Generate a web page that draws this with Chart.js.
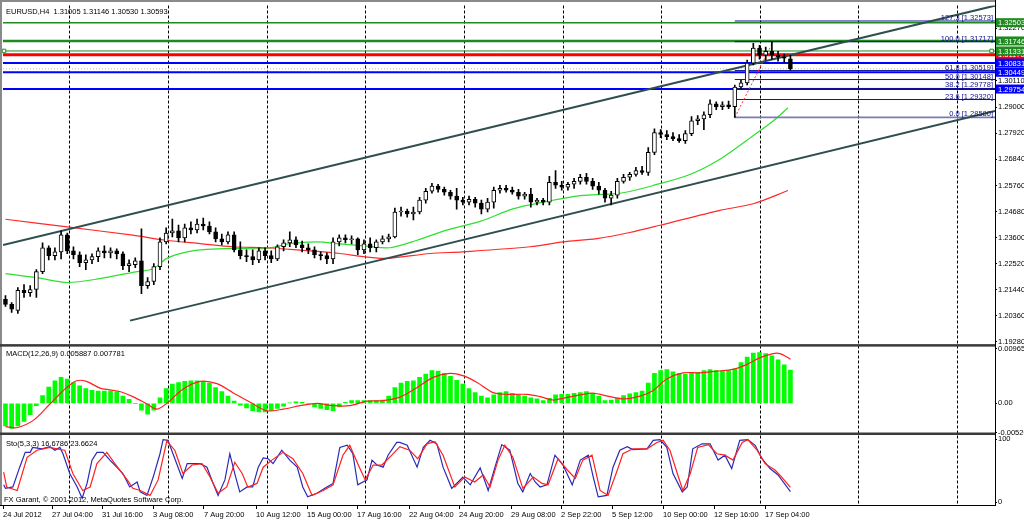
<!DOCTYPE html>
<html>
<head>
<meta charset="utf-8">
<title>EURUSD,H4</title>
<script src="https://cdn.jsdelivr.net/npm/chart.js@4.4.1/dist/chart.umd.min.js"></script>
<style>
html,body{margin:0;padding:0;background:#ffffff;overflow:hidden;}
#box{position:relative;width:1024px;height:520px;}
canvas{display:block;}
</style>
</head>
<body>
<div id="box"><canvas id="chart" width="1024" height="520" style="width:1024px;height:520px"></canvas></div>
<script>
// ---------- DATA ----------
const symbolName = 'EURUSD,H4';
const candleOpen = [
1.2104,1.2083,1.2058,1.2141,1.2132,1.2145,1.2219,1.2318,1.2285,1.2301,
1.2371,1.2305,1.2289,1.2256,1.2268,1.2281,1.2305,1.2297,1.2305,1.2293,
1.2244,1.2248,1.2264,1.2161,1.2178,1.2240,1.2342,1.2379,1.2388,1.2359,
1.2400,1.2392,1.2416,1.2408,1.2384,1.2355,1.2342,1.2371,1.2309,1.2285,
1.2281,1.2268,1.2305,1.2285,1.2272,1.2322,1.2338,1.2351,1.2330,1.2318,
1.2309,1.2289,1.2285,1.2272,1.2342,1.2359,1.2351,1.2355,1.2309,1.2334,
1.2318,1.2342,1.2355,1.2363,1.2466,1.2470,1.2458,1.2466,1.2515,1.2552,
1.2573,1.2560,1.2548,1.2532,1.2515,1.2507,1.2519,1.2503,1.2478,1.2507,
1.2556,1.2564,1.2556,1.2548,1.2532,1.2540,1.2507,1.2515,1.2507,1.2589,
1.2577,1.2569,1.2581,1.2593,1.2610,1.2593,1.2573,1.2556,1.2523,1.2536,
1.2593,1.2610,1.2622,1.2638,1.2630,1.2713,1.2795,1.2787,1.2778,1.2770,
1.2762,1.2791,1.2844,1.2852,1.2869,1.2914,1.2902,1.2910,1.2902,1.2984,
1.3001,1.3083,1.3145,1.3116,1.3132,1.3116,1.3108,1.31005];
const candleHigh = [
1.2120,1.2091,1.2153,1.2165,1.2161,1.2227,1.2338,1.2326,1.2318,1.2388,
1.2379,1.2322,1.2301,1.2289,1.2293,1.2318,1.2326,1.2318,1.2313,1.2301,
1.2268,1.2276,1.2396,1.2194,1.2252,1.2359,1.2400,1.2437,1.2412,1.2416,
1.2425,1.2437,1.2441,1.2425,1.2400,1.2375,1.2384,1.2384,1.2342,1.2309,
1.2309,1.2318,1.2318,1.2305,1.2330,1.2351,1.2384,1.2363,1.2346,1.2334,
1.2322,1.2301,1.2297,1.2359,1.2371,1.2371,1.2367,1.2359,1.2351,1.2359,
1.2351,1.2367,1.2375,1.2482,1.2486,1.2478,1.2486,1.2527,1.2564,1.2585,
1.2581,1.2569,1.2556,1.2564,1.2527,1.2532,1.2527,1.2515,1.2523,1.2569,
1.2577,1.2577,1.2569,1.2560,1.2548,1.2564,1.2523,1.2523,1.2614,1.2638,
1.2593,1.2589,1.2606,1.2622,1.2626,1.2606,1.2589,1.2564,1.2552,1.2606,
1.2622,1.2630,1.2651,1.2655,1.2733,1.2811,1.2807,1.2803,1.2795,1.2787,
1.2803,1.2861,1.2865,1.2881,1.2931,1.2922,1.2922,1.2926,1.2992,1.3013,
1.3095,1.3165,1.3157,1.3149,1.3172,1.3132,1.3120,1.31146];
const candleLow = [
1.2075,1.2050,1.2046,1.2112,1.2116,1.2112,1.2211,1.2268,1.2268,1.2272,
1.2293,1.2272,1.2240,1.2227,1.2252,1.2260,1.2276,1.2276,1.2272,1.2227,
1.2219,1.2235,1.2128,1.2149,1.2165,1.2227,1.2334,1.2363,1.2342,1.2342,
1.2375,1.2379,1.2392,1.2375,1.2342,1.2330,1.2334,1.2301,1.2272,1.2260,
1.2248,1.2256,1.2268,1.2256,1.2264,1.2305,1.2322,1.2318,1.2301,1.2293,
1.2276,1.2268,1.2252,1.2252,1.2326,1.2338,1.2334,1.2289,1.2293,1.2301,
1.2301,1.2334,1.2342,1.2359,1.2449,1.2445,1.2433,1.2458,1.2503,1.2544,
1.2548,1.2536,1.2519,1.2478,1.2495,1.2495,1.2486,1.2458,1.2466,1.2482,
1.2544,1.2548,1.2540,1.2519,1.2519,1.2486,1.2495,1.2495,1.2495,1.2564,
1.2556,1.2556,1.2564,1.2581,1.2581,1.2560,1.2540,1.2507,1.2495,1.2523,
1.2585,1.2597,1.2614,1.2622,1.2618,1.2704,1.2774,1.2766,1.2762,1.2754,
1.2750,1.2782,1.2828,1.2807,1.2857,1.2890,1.2890,1.2894,1.2858,1.2976,
1.2992,1.3075,1.3099,1.3095,1.3099,1.3091,1.3087,1.30530];
const candleClose = [
1.2083,1.2063,1.2141,1.2132,1.2145,1.2219,1.2318,1.2285,1.2301,1.2371,
1.2305,1.2289,1.2256,1.2268,1.2281,1.2305,1.2297,1.2305,1.2293,1.2244,
1.2252,1.2264,1.2161,1.2178,1.2240,1.2342,1.2379,1.2388,1.2359,1.2400,
1.2392,1.2416,1.2408,1.2384,1.2355,1.2342,1.2371,1.2309,1.2285,1.2281,
1.2268,1.2305,1.2285,1.2272,1.2322,1.2338,1.2351,1.2330,1.2318,1.2309,
1.2289,1.2285,1.2272,1.2342,1.2359,1.2351,1.2355,1.2309,1.2334,1.2318,
1.2342,1.2355,1.2363,1.2466,1.2470,1.2458,1.2466,1.2515,1.2552,1.2573,
1.2560,1.2548,1.2532,1.2515,1.2507,1.2519,1.2503,1.2478,1.2507,1.2556,
1.2564,1.2556,1.2548,1.2532,1.2540,1.2507,1.2515,1.2507,1.2589,1.2577,
1.2569,1.2581,1.2593,1.2610,1.2593,1.2573,1.2556,1.2523,1.2536,1.2593,
1.2610,1.2622,1.2638,1.2630,1.2713,1.2795,1.2787,1.2778,1.2770,1.2762,
1.2791,1.2844,1.2852,1.2869,1.2914,1.2902,1.2910,1.2902,1.2984,1.3001,
1.3083,1.3145,1.3116,1.3132,1.3116,1.3108,1.3103,1.30593];

// moving averages (bar index, price)
const maFastIdx = [0,5.1,10,15.3,20.6,23.9,26.1,29.4,32.6,36.8,42.3,46,50.4,54.1,57.9,62.2,66.6,71.4,76.8,82.1,87.6,93,98.3,101,104.8,110.3,115.6,120.9,124.2,126.6];
const maFastVal = [1.2211,1.2194,1.2174,1.2190,1.2216,1.2231,1.2274,1.2301,1.2311,1.2315,1.2315,1.2335,1.2342,1.2334,1.2326,1.2318,1.2349,1.2391,1.2427,1.2479,1.2510,1.2534,1.2541,1.2551,1.2576,1.2617,1.2685,1.2781,1.2843,1.2898];
const maSlowIdx = [0,10,20.6,26,31.5,36.8,42.3,47.6,54.1,57.9,61.7,68.7,74,84.9,90.2,95.7,101,105.9,115.6,121,126.6];
const maSlowVal = [1.2436,1.2404,1.2370,1.2349,1.2335,1.2322,1.2318,1.2308,1.2294,1.2281,1.2274,1.2294,1.2301,1.2322,1.2342,1.2356,1.2381,1.2411,1.2473,1.2500,1.2555];

// channel trend lines (bar index, price)
const channelUpIdx = [-0.4, 160.1];
const channelUpVal = [1.2329, 1.3321];
const channelLowIdx = [20.15, 160.1];
const channelLowVal = [1.2016, 1.2885];

// horizontal price lines and their axis labels
const hLineLevels = [1.32503, 1.31746, 1.31170, 1.31331, 1.30831, 1.30449, 1.29754];
const bidPrice = 1.30593;
const selectedAnchorIdx = [-0.24, 159.55];

// Fibonacci retracement
const fibAnchorIdx = [118, 124.2];
const fibAnchorVal = [1.28580, 1.31717];
const fibLevels = [0.0, 23.6, 38.2, 50.0, 61.8, 100.0, 127.3];
const fibPrices = [1.28580, 1.29320, 1.29778, 1.30148, 1.30519, 1.31717, 1.32573];

// MACD(12,26,9)
const macdHist = [
-0.0040,-0.0044,-0.0040,-0.0032,-0.0020,-0.0004,0.0014,0.0029,0.0040,0.0046,
0.0043,0.0037,0.0031,0.0026,0.0023,0.0022,0.0022,0.0022,0.0020,0.0013,
0.0007,0.0000,-0.0012,-0.0019,-0.0012,0.0010,0.0026,0.0034,0.0037,0.0039,
0.0040,0.0040,0.0039,0.0036,0.0028,0.0021,0.0013,0.0004,-0.0003,-0.0008,
-0.0013,-0.0015,-0.0015,-0.0013,-0.0009,-0.0005,0.0001,0.0003,0.0002,-0.0001,
-0.0006,-0.0009,-0.0011,-0.0013,-0.0006,0.0002,0.0005,0.0005,0.0005,0.0005,
0.0005,0.0006,0.0013,0.0028,0.0036,0.0039,0.0040,0.0046,0.0052,0.0058,
0.0057,0.0053,0.0048,0.0041,0.0034,0.0026,0.0019,0.0013,0.0010,0.0015,
0.0019,0.0021,0.0018,0.0015,0.0013,0.0010,0.0008,0.0005,0.0009,0.0015,
0.0016,0.0016,0.0018,0.0019,0.0021,0.0018,0.0013,0.0005,0.0006,0.0010,
0.0014,0.0017,0.0019,0.0022,0.0036,0.0053,0.0058,0.0060,0.0056,0.0053,
0.0052,0.0054,0.0055,0.0058,0.0060,0.0058,0.0058,0.0058,0.0061,0.0072,
0.0082,0.0089,0.0090,0.0088,0.0084,0.0077,0.0068,0.005887];
const macdSignalIdx = [0,1.8,4.5,7.2,9.9,11.5,13.1,15.3,16.9,18.5,20.6,22.9,24.5,26.1,28.7,31.5,34.2,36.8,39.6,42.3,45,47.7,50.4,53,55.7,58.5,61.1,63.8,66.6,69.2,71.9,74,76.3,78.9,81.1,84.4,86.5,88.6,90.2,93,95,97.8,99.9,102.7,104.8,107,109.6,112.4,115.1,117.7,120,122.1,124.2,125.3,126.6,127];
const macdSignalVal = [-0.0041,-0.0043,-0.0030,-0.0001,0.0028,0.0040,0.0039,0.0027,0.0024,0.0021,0.0012,-0.0001,-0.0010,0.0000,0.0025,0.0039,0.0035,0.0019,0.0002,-0.0013,-0.0010,-0.0004,0.0000,-0.0004,-0.0004,0.0004,0.0005,0.0011,0.0028,0.0046,0.0053,0.0049,0.0037,0.0019,0.0016,0.0016,0.0012,0.0006,0.0009,0.0015,0.0018,0.0012,0.0008,0.0013,0.0023,0.0043,0.0054,0.0054,0.0057,0.0060,0.0069,0.0081,0.0088,0.0088,0.0081,0.007781];

// Stochastic(5,3,3)
const stochKIdx = [-0.3,0,1.2,2.3,3.2,4.0,4.4,5.9,7.2,8.0,8.8,9.3,10.4,11.6,12.4,13.2,14.0,14.8,15.8,16.9,18.0,19.0,20.1,21.3,21.8,22.9,23.9,25.0,25.5,26.3,27.1,28.6,29.4,30.3,31.5,32.6,33.6,34.4,35.5,36.3,37.1,37.9,39.1,40.0,40.9,41.7,42.5,43.3,44.7,46.0,47.2,48.1,48.9,50.4,52.0,53.0,54.1,55.3,56.2,57.0,58.5,59.3,60.1,61.1,61.9,63.3,63.8,65.0,66.6,67.6,68.7,69.8,70.8,72.2,74.0,75.2,76.8,78.1,79.2,80.3,81.6,82.9,83.7,84.9,85.7,86.5,87.6,88.9,90.2,91.7,93.0,94.3,95.1,95.9,97.3,98.3,99.4,100.6,101.5,103.8,104.8,105.9,107.0,108.0,109.5,110.3,111.2,112.7,114.0,115.3,116.4,117.5,118.8,120.1,121.3,122.4,123.7,125.0,127];
const stochKVal = [27.6,22,24.2,55.6,79.1,79.1,87,84.7,88.1,82.5,87,76.9,45.5,24.2,6.3,29.8,66.8,79.1,79.1,66.8,55.6,45.5,24.2,32.1,16.4,10.8,39.9,76.9,99.3,98.2,76.9,37.7,61.2,61.2,61.2,55.6,29.8,10.8,35.4,76.9,45.5,16.4,24.2,24.2,55.6,70.2,69,61.2,82.5,66.8,55.6,24.2,8.6,14.2,24.2,29.8,87,90.3,76.9,27.6,35.4,66.8,59,55.6,74.6,94.8,94.8,90.3,55.6,87,98.2,92.6,55.6,22,39.9,27.6,54.5,18.6,55.6,91.4,82.5,29.8,16.4,45.5,32.1,24.2,27.6,74.6,59,27.6,66.8,74.6,39.9,8.6,10.8,55.6,82.5,88.1,83.6,84.7,98.2,99.3,87,45.5,16.4,24.2,84.7,92.6,92.6,66.8,74.6,53.4,98.2,99.3,90.3,69,53.4,43.3,16.6786];
const stochDIdx = [-0.3,0.2,1.9,3.5,5.1,7.2,8.8,9.6,10.9,12.5,13.7,14.8,16.4,17.7,19.7,20.6,21.8,23.4,24.7,26.1,27.4,28.7,30.2,31.8,33.1,34.4,35.8,37.1,38.3,39.2,40.7,41.7,43.1,44.9,46.5,48.1,49.6,51.4,53.0,54.6,55.7,57.0,58.2,59.5,60.9,62.5,63.8,65.4,66.7,68.2,69.5,70.8,72.7,74.3,75.9,77.3,78.4,79.7,80.8,82.1,83.7,85.4,86.8,87.8,89.4,90.9,92.2,93.4,94.9,96.2,97.5,99.0,99.9,101.5,103.8,105.4,106.4,107.5,108.7,109.6,110.8,112.0,113.7,115.1,116.4,117.7,119.2,120.1,121.6,122.9,124.5,125.6,127];
const stochDVal = [47.8,24.2,18.6,71.3,82.5,87,83.6,82.5,45.5,18.6,24.2,61.2,79.1,61.2,35.4,22,18.6,10.8,35.4,97,82.5,45.5,59,61.2,39.9,14.2,24.2,63.4,45.5,24.2,29.8,55.6,66.8,79.1,69,45.5,10.8,18.6,27.6,74.6,90.3,61.2,35.4,59,59,74.6,88.1,82.5,69,92.6,95.9,74.6,24.2,39.9,32.1,43.3,24.2,66.8,90.3,71.3,22,39.9,29.8,27.6,69,51.1,37.7,66.8,74.6,18.6,10.8,51.1,76.9,84.7,84.7,94.8,98.2,82.5,45.5,18.6,45.5,87,91.4,76.9,74.6,66.8,94.8,99.3,82.5,61.2,51.1,39.9,23.6624];

// axes
const xTickIdx = [-0.4,7.53,15.62,23.87,32.12,40.54,48.79,56.88,65.3,73.39,81.8,89.89,98.15,106.4,114.65,122.9];
const xTickLabels = ['24 Jul 2012','27 Jul 04:00','31 Jul 16:00','3 Aug 08:00','7 Aug 20:00','10 Aug 12:00','15 Aug 00:00','17 Aug 16:00','22 Aug 04:00','24 Aug 20:00','29 Aug 08:00','2 Sep 22:00','5 Sep 12:00','10 Sep 00:00','12 Sep 16:00','17 Sep 04:00'];
const gridIdx = [10.33,26.25,42.27,58.18,74.24,90.17,106.07,122.09,137.95,153.97];
const priceTicks = [1.19280,1.20360,1.21440,1.22520,1.23600,1.24680,1.25760,1.26840,1.27920,1.29000,1.30110,1.32270];
const macdTicks = [0.00965, 0, -0.0052];
const macdTickLabels = ['0.00965','0.00','-0.00520'];
const stochTicks = [100, 0];
const footerText = 'FX Garant, \u00A9 2001-2012, MetaQuotes Software Corp.';

// ---------- STYLES / LAYOUT ----------
const X_MIN = -0.4, X_MAX = 160.1;
const FONT = '"Liberation Sans", Arial, sans-serif';
const FS = 7.5;
const hLineColors = ['#1f8a1f','#1f8a1f','#ff0000','#1f8a1f','#0000ff','#0000ff','#0000ff'];
const hLineWidths = [1.5, 2.5, 3, 1, 2, 2, 2];
const boxColors   = ['#1f8a1f','#1f8a1f','#ff0000','#1f8a1f','#0000ff','#0000ff','#0000ff'];

Chart.defaults.font.family = FONT;
Chart.defaults.font.size = FS;
Chart.defaults.color = '#000';

const pts = (xs, ys) => xs.map((x, i) => ({x: x, y: ys[i]}));
const last = a => a[a.length - 1];

const datasets = [];

// horizontal lines
hLineLevels.forEach((lv, i) => {
  const isSel = (lv === 1.31331);
  const xs = isSel ? [X_MIN, selectedAnchorIdx[0], selectedAnchorIdx[1], X_MAX] : [X_MIN, X_MAX];
  datasets.push({
    type: 'line', yAxisID: 'y', order: 60,
    data: xs.map(x => ({x: x, y: lv})),
    borderColor: hLineColors[i], borderWidth: hLineWidths[i],
    pointRadius: isSel ? [0, 2.5, 2.5, 0] : 0,
    pointStyle: 'rect', pointBackgroundColor: '#ffffff', pointBorderColor: hLineColors[i], pointBorderWidth: 1,
    clip: isSel ? 4 : undefined
  });
});
// bid line
datasets.push({ type: 'line', yAxisID: 'y', order: 58,
  data: [{x: X_MIN, y: bidPrice}, {x: X_MAX, y: bidPrice}],
  borderColor: '#b8b8b8', borderWidth: 1, borderDash: [1, 2], pointRadius: 0 });

// moving averages
datasets.push({ type: 'line', yAxisID: 'y', order: 50, data: pts(maSlowIdx, maSlowVal),
  borderColor: '#ff2a2a', borderWidth: 1.2, pointRadius: 0, tension: 0.3 });
datasets.push({ type: 'line', yAxisID: 'y', order: 50, data: pts(maFastIdx, maFastVal),
  borderColor: '#2ee02e', borderWidth: 1.2, pointRadius: 0, tension: 0.3 });

// fibonacci levels
fibPrices.forEach((p, i) => {
  datasets.push({ type: 'line', yAxisID: 'y', order: 45,
    data: [{x: fibAnchorIdx[0], y: p}, {x: X_MAX, y: p}],
    borderColor: fibLevels[i] === 0 ? '#7a7ab8' : '#101098', borderWidth: fibLevels[i] === 0 ? 1.6 : 1, pointRadius: 0 });
});
datasets.push({ type: 'line', yAxisID: 'y', order: 44, data: pts(fibAnchorIdx, fibAnchorVal),
  borderColor: '#ff3030', borderWidth: 1, borderDash: [2, 2], pointRadius: 0 });

// channel
datasets.push({ type: 'line', yAxisID: 'y', order: 40, data: pts(channelUpIdx, channelUpVal),
  borderColor: '#2f4f4f', borderWidth: 2, pointRadius: 0 });
datasets.push({ type: 'line', yAxisID: 'y', order: 40, data: pts(channelLowIdx, channelLowVal),
  borderColor: '#2f4f4f', borderWidth: 2, pointRadius: 0 });

// candles
const cIdx = candleClose.map((_, i) => i);
datasets.push({ type: 'bar', yAxisID: 'y', order: 20, grouped: false,
  data: cIdx.map(i => ({x: i, y: [candleLow[i], candleHigh[i]]})),
  backgroundColor: '#000000', borderWidth: 0, barThickness: 1, minBarLength: 1 });
datasets.push({ type: 'bar', yAxisID: 'y', order: 10, grouped: false,
  data: cIdx.map(i => ({x: i, y: [Math.min(candleOpen[i], candleClose[i]), Math.max(candleOpen[i], candleClose[i])]})),
  backgroundColor: cIdx.map(i => candleClose[i] >= candleOpen[i] ? '#ffffff' : '#000000'),
  borderColor: '#000000', borderWidth: 1, borderSkipped: false, barThickness: 4, minBarLength: 1 });

// MACD
datasets.push({ type: 'bar', yAxisID: 'yM', order: 30, grouped: false,
  data: cIdx.map(i => ({x: i, y: macdHist[i]})),
  backgroundColor: '#00ff00', borderWidth: 0, barThickness: 4 });
datasets.push({ type: 'line', yAxisID: 'yM', order: 25, data: pts(macdSignalIdx, macdSignalVal),
  borderColor: '#ff2020', borderWidth: 1.2, pointRadius: 0, tension: 0.3 });

// Stochastic
datasets.push({ type: 'line', yAxisID: 'yS', order: 22, data: pts(stochKIdx, stochKVal),
  borderColor: '#2a2ab8', borderWidth: 1.2, pointRadius: 0, tension: 0 });
datasets.push({ type: 'line', yAxisID: 'yS', order: 21, data: pts(stochDIdx, stochDVal),
  borderColor: '#ff2020', borderWidth: 1.2, pointRadius: 0, tension: 0 });

// ---------- decorations plugin ----------
const deco = {
  id: 'deco',
  beforeDatasetsDraw(chart) {
    const {ctx, chartArea: a} = chart;
    const x = chart.scales.x;
    ctx.save();
    ctx.strokeStyle = '#000'; ctx.lineWidth = 1; ctx.setLineDash([3, 2]);
    gridIdx.forEach(g => {
      const px = Math.round(x.getPixelForValue(g)) + 0.5;
      ctx.beginPath(); ctx.moveTo(px, a.top); ctx.lineTo(px, a.bottom); ctx.stroke();
    });
    ctx.restore();
  },
  afterDatasetsDraw(chart) {
    const {ctx, chartArea: a} = chart;
    const yMain = chart.scales.y, yM = chart.scales.yM;
    ctx.save();
    ctx.fillStyle = '#8a8a8a';
    ctx.fillRect(0, 0, a.right + 1, 2);
    ctx.fillRect(0, 0, 2, a.bottom);
    ctx.fillStyle = '#3a3a3a';
    ctx.fillRect(0, yMain.bottom - 1, a.right + 1, 2.5);
    ctx.fillRect(0, yM.bottom - 1, a.right + 1, 2.5);
    ctx.fillStyle = '#000';
    ctx.fillRect(a.right, 0, 1, a.bottom);
    ctx.fillRect(0, a.bottom - 1, a.right + 1, 1);
    ctx.restore();
  },
  afterDraw(chart) {
    const {ctx, chartArea: a} = chart;
    const y = chart.scales.y, yM = chart.scales.yM, yS = chart.scales.yS;
    ctx.save();
    ctx.font = FS + 'px ' + FONT;
    ctx.textBaseline = 'middle';
    ctx.textAlign = 'left';
    ctx.fillStyle = '#000';
    ctx.fillText(symbolName + '  ' + last(candleOpen).toFixed(5) + ' ' + last(candleHigh).toFixed(5) + ' ' +
      last(candleLow).toFixed(5) + ' ' + last(candleClose).toFixed(5), 6, a.top + 6);
    ctx.fillText('MACD(12,26,9) ' + last(macdHist).toFixed(6) + ' ' + last(macdSignalVal).toFixed(6), 6, yM.top + 9);
    ctx.fillText('Sto(5,3,3) ' + last(stochKVal).toFixed(4) + ' ' + last(stochDVal).toFixed(4), 6, yS.top + 10);
    ctx.fillText(footerText, 4, a.bottom - 6);

    // fibonacci descriptions
    ctx.fillStyle = '#101090';
    ctx.textAlign = 'right';
    ctx.textBaseline = 'alphabetic';
    fibPrices.forEach((p, i) => {
      const py = y.getPixelForValue(p);
      ctx.fillText(fibLevels[i].toFixed(1) + ' [' + p.toFixed(5) + ']', a.right - 2, py - 1);
    });

    // price boxes on the right axis
    ctx.textAlign = 'left';
    ctx.textBaseline = 'middle';
    hLineLevels.forEach((v, i) => {
      const py = y.getPixelForValue(v);
      ctx.fillStyle = boxColors[i];
      ctx.fillRect(a.right + 1, py - 4.5, chart.width - a.right, 9);
      ctx.fillStyle = '#ffffff';
      ctx.fillText(v.toFixed(5), a.right + 3, py + 0.5);
    });
    ctx.restore();
  }
};

const yAxisBase = (extra) => Object.assign({
  type: 'linear', position: 'right', stack: 'panes',
  afterFit: s => { s.width = 29; },
  grid: { drawOnChartArea: false, drawTicks: true, tickLength: 2, color: '#000', offset: false },
  border: { display: false },
  ticks: { padding: 1, color: '#000', font: { size: FS, family: FONT } }
}, extra);

new Chart(document.getElementById('chart'), {
  type: 'line',
  data: { datasets: datasets },
  options: {
    responsive: false,
    animation: false,
    events: [],
    parsing: true,
    layout: { padding: { left: 3, top: 2, right: 0, bottom: 0 } },
    plugins: { legend: { display: false }, tooltip: { enabled: false }, title: { display: false } },
    elements: { point: { radius: 0 }, line: { tension: 0 } },
    scales: {
      x: {
        type: 'linear', position: 'bottom', min: X_MIN, max: X_MAX, offset: false,
        afterBuildTicks: s => { s.ticks = xTickIdx.map(v => ({value: v})); },
        afterFit: s => { s.height = 14; },
        grid: { drawOnChartArea: false, drawTicks: true, tickLength: 3, color: '#000', offset: false },
        border: { display: false },
        ticks: { autoSkip: false, maxRotation: 0, minRotation: 0, align: 'start', padding: 1, color: '#000',
                 font: { size: FS, family: FONT },
                 callback: (v, i) => xTickLabels[i] }
      },
      y: yAxisBase({
        stackWeight: 342, min: 1.19145, max: 1.33215,
        afterBuildTicks: s => { s.ticks = priceTicks.map(v => ({value: v})); },
        ticks: { padding: 1, color: '#000', font: { size: FS, family: FONT }, callback: v => Number(v).toFixed(5) }
      }),
      yM: yAxisBase({
        stackWeight: 89, min: -0.00532, max: 0.0103,
        afterBuildTicks: s => { s.ticks = macdTicks.map(v => ({value: v})); },
        ticks: { padding: 1, color: '#000', font: { size: FS, family: FONT }, callback: (v, i) => macdTickLabels[i] }
      }),
      yS: yAxisBase({
        stackWeight: 73, min: -6, max: 109,
        afterBuildTicks: s => { s.ticks = stochTicks.map(v => ({value: v})); },
        ticks: { padding: 1, color: '#000', font: { size: FS, family: FONT }, callback: v => String(v) }
      })
    }
  },
  plugins: [deco]
});
</script>
</body>
</html>
